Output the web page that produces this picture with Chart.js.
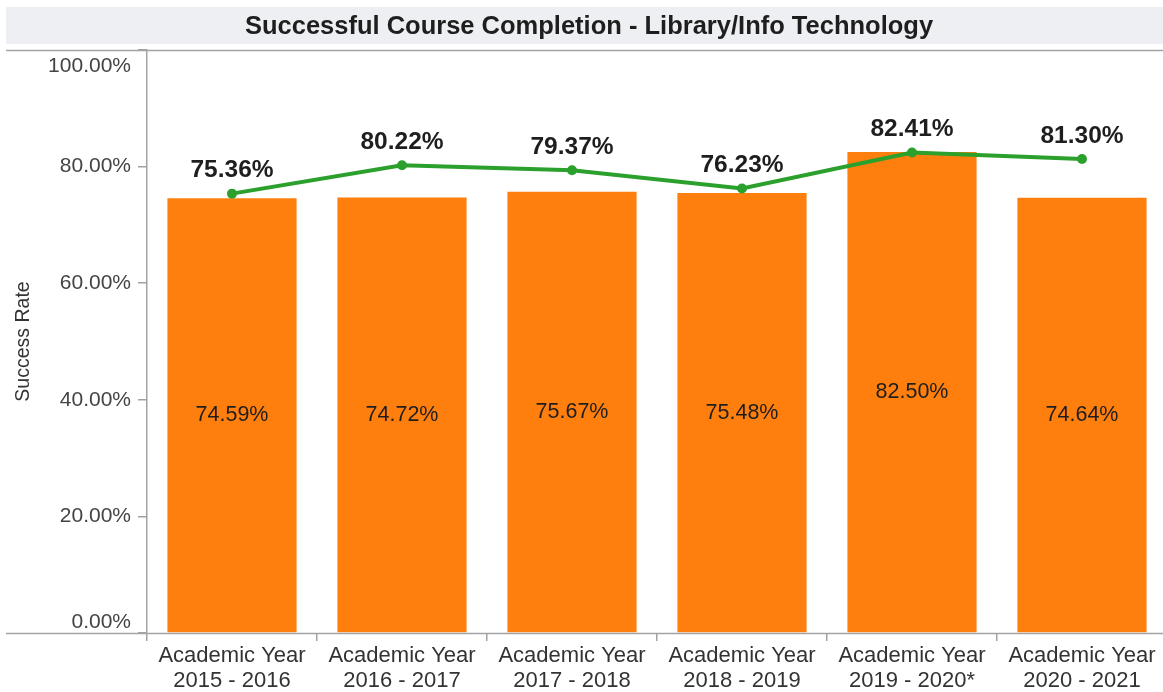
<!DOCTYPE html>
<html>
<head>
<meta charset="utf-8">
<title>Successful Course Completion - Library/Info Technology</title>
<script src="https://cdn.jsdelivr.net/npm/chart.js@4.4.1/dist/chart.umd.min.js"></script>
<style>
  html, body { margin: 0; padding: 0; background: #fff; overflow: hidden; }
  #myChart { display: block; }
</style>
</head>
<body>
<canvas id="myChart" width="1172" height="692"></canvas>
<script>
const years = [
    ["Academic Year", "2015 - 2016"],
    ["Academic Year", "2016 - 2017"],
    ["Academic Year", "2017 - 2018"],
    ["Academic Year", "2018 - 2019"],
    ["Academic Year", "2019 - 2020*"],
    ["Academic Year", "2020 - 2021"]
];
const libraryRates = [74.59, 74.72, 75.67, 75.48, 82.50, 74.64];
const overallRates = [75.36, 80.22, 79.37, 76.23, 82.41, 81.30];
const yTicks = [0, 20, 40, 60, 80, 100];

const chartTitle = "Successful Course Completion - Library/Info Technology";
const fontName = "'Liberation Sans', Arial, Helvetica, sans-serif";
const lineColor = "#a3a3a3";

// title bar, frame lines, y labels and y title
const framePlugin = {
    id: "frame",
    beforeDraw(chart) {
        const c = chart.ctx;
        c.save();
        c.fillStyle = "#eeeff2";
        c.fillRect(6, 7, chart.width - 6, 37);
        c.fillStyle = "#1e1e1e";
        c.font = "bold 25.5px " + fontName;
        c.textAlign = "center";
        c.textBaseline = "middle";
        c.fillText(chartTitle, (6 + chart.width) / 2, 27);
        c.restore();
    },
    afterDraw(chart) {
        const c = chart.ctx;
        const area = chart.chartArea;
        const yScale = chart.scales.y;
        c.save();
        c.strokeStyle = lineColor;
        c.lineWidth = 1.5;
        c.beginPath();
        c.moveTo(6, area.top + 0.5);
        c.lineTo(chart.width, area.top + 0.5);
        c.moveTo(6, area.bottom + 0.5);
        c.lineTo(chart.width, area.bottom + 0.5);
        c.stroke();

        c.fillStyle = "#444";
        c.font = "21px " + fontName;
        c.textAlign = "right";
        c.textBaseline = "middle";
        for (let i = 0; i < yTicks.length; i++) {
            let y = yScale.getPixelForValue(yTicks[i]);
            y = Math.min(Math.max(y, area.top + 16), area.bottom - 11);
            c.fillText(yTicks[i].toFixed(2) + "%", 131, y);
        }

        c.translate(24, (area.top + area.bottom) / 2);
        c.rotate(-Math.PI / 2);
        c.textAlign = "center";
        c.fillStyle = "#333";
        c.font = "19.5px " + fontName;
        c.fillText("Success Rate", 0, 0);
        c.restore();
    }
};

// value labels on bars and line points
const labelPlugin = {
    id: "valueLabels",
    afterDatasetsDraw(chart) {
        const c = chart.ctx;
        c.save();
        c.textAlign = "center";
        c.textBaseline = "middle";

        const barMeta = chart.getDatasetMeta(1);
        c.fillStyle = "#1e1e1e";
        c.font = "21.5px " + fontName;
        barMeta.data.forEach((bar, i) => {
            c.fillText(libraryRates[i].toFixed(2) + "%", bar.x, (bar.y + bar.base) / 2);
        });

        const lineMeta = chart.getDatasetMeta(0);
        c.font = "bold 24.5px " + fontName;
        lineMeta.data.forEach((pt, i) => {
            c.fillText(overallRates[i].toFixed(2) + "%", pt.x, pt.y - 23);
        });
        c.restore();
    }
};

const data = {
    labels: years,
    datasets: [{
        type: "line",
        label: "Overall",
        data: overallRates,
        borderColor: "#2ca02c",
        backgroundColor: "#2ca02c",
        borderWidth: 4,
        pointRadius: 5,
        pointBackgroundColor: "#2ca02c",
        pointBorderWidth: 0,
        tension: 0,
        order: 0
    }, {
        type: "bar",
        label: "Library/Info Technology",
        data: libraryRates,
        backgroundColor: "#fe7f0e",
        barPercentage: 0.76,
        categoryPercentage: 1,
        order: 1
    }]
};

const config = {
    data: data,
    options: {
        responsive: false,
        animation: false,
        devicePixelRatio: 1,
        layout: {
            padding: { top: 50, right: 1, bottom: 0, left: 0 }
        },
        plugins: {
            legend: { display: false },
            tooltip: { enabled: false }
        },
        scales: {
            x: {
                offset: true,
                grid: {
                    offset: true,
                    drawOnChartArea: false,
                    tickLength: 8,
                    color: lineColor,
                    lineWidth: 1.5
                },
                border: { display: false },
                ticks: {
                    color: "#333",
                    padding: 2,
                    maxRotation: 0,
                    font: { family: fontName, size: 22, lineHeight: 1.14 }
                },
                afterFit: (scale) => { scale.height = 59; }
            },
            y: {
                min: 0,
                max: 100,
                ticks: {
                    stepSize: 20,
                    color: "rgba(0,0,0,0)"
                },
                grid: {
                    drawOnChartArea: false,
                    tickLength: 9,
                    color: lineColor,
                    lineWidth: 1.5
                },
                border: { color: lineColor, width: 1.5 },
                afterFit: (scale) => { scale.width = 147; }
            }
        }
    },
    plugins: [framePlugin, labelPlugin]
};

const ctx = document.getElementById("myChart");
let myChart = new Chart(ctx, config);
</script>
</body>
</html>
